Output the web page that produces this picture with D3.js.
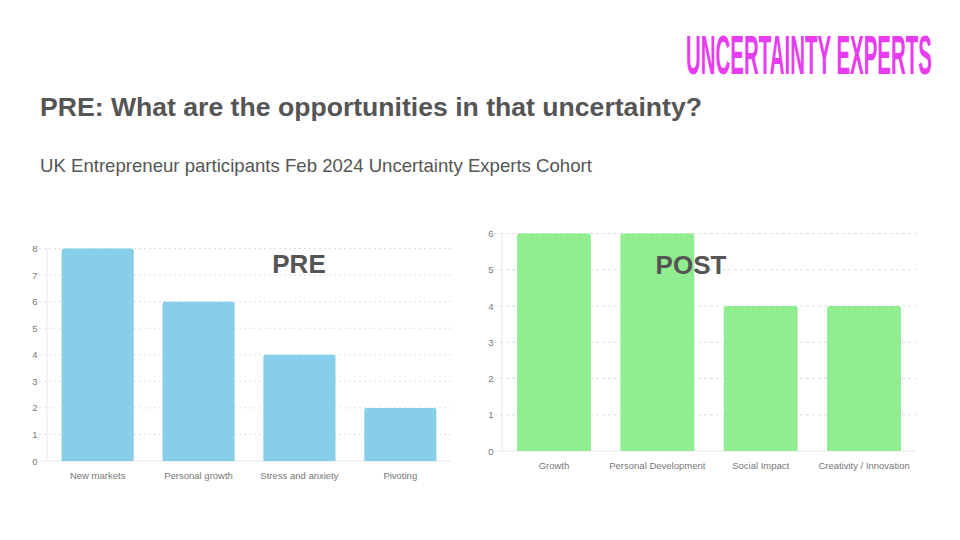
<!DOCTYPE html>
<html>
<head>
<meta charset="utf-8">
<script src="https://cdn.jsdelivr.net/npm/d3@7"></script>
<style>
  html, body { margin: 0; padding: 0; background: #fff; }
  svg { display: block; font-family: "Liberation Sans", Arial, sans-serif; }
</style>
</head>
<body>
<svg id="chart" width="960" height="540"></svg>
<script>
// data
const preCategories = ['New markets', 'Personal growth', 'Stress and anxiety', 'Pivoting'];
const preValues = [8, 6, 4, 2];
const preTicks = [0, 1, 2, 3, 4, 5, 6, 7, 8];

const postCategories = ['Growth', 'Personal Development', 'Social Impact', 'Creativity / Innovation'];
const postValues = [6, 6, 4, 4];
const postTicks = [0, 1, 2, 3, 4, 5, 6];

const svg = d3.select('#chart');

// condensed logo: squeeze a bold face to the logo's width
let logo = svg.append('text')
  .attr('x', 0).attr('y', 0)
  .attr('font-size', 56).attr('font-weight', 'bold')
  .attr('fill', '#e83cf0')
  .text('UNCERTAINTY EXPERTS');
let logoW = logo.node().getComputedTextLength();
logo.attr('transform', `translate(686,74) scale(${246 / logoW},1)`);

svg.append('text')
  .attr('x', 40).attr('y', 116)
  .attr('font-size', 26.6).attr('font-weight', 'bold')
  .attr('fill', '#555')
  .text('PRE: What are the opportunities in that uncertainty?');

svg.append('text')
  .attr('x', 40).attr('y', 172)
  .attr('font-size', 18.6)
  .attr('fill', '#555')
  .text('UK Entrepreneur participants Feb 2024 Uncertainty Experts Cohort');

function barChart(opts) {
  let { categories, values, ticks, left, right, top, bottom, color, dash, label, labelX, labelY, labelOffset, tickX } = opts;

  let x = d3.scaleBand()
    .domain(categories)
    .range([left, right])
    .paddingInner(0.285)
    .paddingOuter(0.145);

  let y = d3.scaleLinear()
    .domain([0, d3.max(ticks)])
    .range([bottom, top]);

  let g = svg.append('g');

  // grid lines (reach a little left of the axis like tick marks)
  g.selectAll('.grid')
    .data(ticks.filter(t => t > 0))
    .enter().append('line')
    .attr('x1', left - 8).attr('x2', right)
    .attr('y1', d => y(d)).attr('y2', d => y(d))
    .attr('stroke', '#dedede')
    .attr('stroke-width', 1)
    .attr('stroke-dasharray', dash);

  g.append('line')
    .attr('x1', left).attr('x2', left)
    .attr('y1', top).attr('y2', bottom)
    .attr('stroke', '#e8e8e8');

  g.append('line')
    .attr('x1', left - 8).attr('x2', right)
    .attr('y1', bottom).attr('y2', bottom)
    .attr('stroke', '#e8e8e8');

  g.selectAll('.tick-label')
    .data(ticks)
    .enter().append('text')
    .attr('x', tickX)
    .attr('y', d => y(d) + 3.5)
    .attr('text-anchor', 'middle')
    .attr('font-size', 9.5)
    .attr('fill', '#777')
    .text(d => d);

  let r = 2.5;
  g.selectAll('.bar')
    .data(values)
    .enter().append('path')
    .attr('fill', color)
    .attr('d', (d, i) => {
      let x0 = x(categories[i]), w = x.bandwidth(), y0 = y(d), y1 = bottom;
      return `M${x0},${y1}V${y0 + r}Q${x0},${y0} ${x0 + r},${y0}H${x0 + w - r}Q${x0 + w},${y0} ${x0 + w},${y0 + r}V${y1}Z`;
    });

  g.selectAll('.cat')
    .data(categories)
    .enter().append('text')
    .attr('x', d => x(d) + x.bandwidth() / 2)
    .attr('y', bottom + labelOffset)
    .attr('text-anchor', 'middle')
    .attr('font-size', 9.5)
    .attr('fill', '#777')
    .text(d => d);

  g.append('text')
    .attr('x', labelX).attr('y', labelY)
    .attr('text-anchor', 'middle')
    .attr('font-size', 26).attr('font-weight', 'bold')
    .attr('fill', '#555')
    .text(label);
}

barChart({
  categories: preCategories, values: preValues, ticks: preTicks,
  left: 47, right: 451, top: 248.5, bottom: 461,
  color: '#87ceeb', dash: '2,3',
  label: 'PRE', labelX: 299, labelY: 273, labelOffset: 18, tickX: 35
});

barChart({
  categories: postCategories, values: postValues, ticks: postTicks,
  left: 502, right: 916, top: 233.5, bottom: 451,
  color: '#90ee90', dash: '3,3',
  label: 'POST', labelX: 691, labelY: 274, labelOffset: 18, tickX: 491
});
</script>
</body>
</html>
